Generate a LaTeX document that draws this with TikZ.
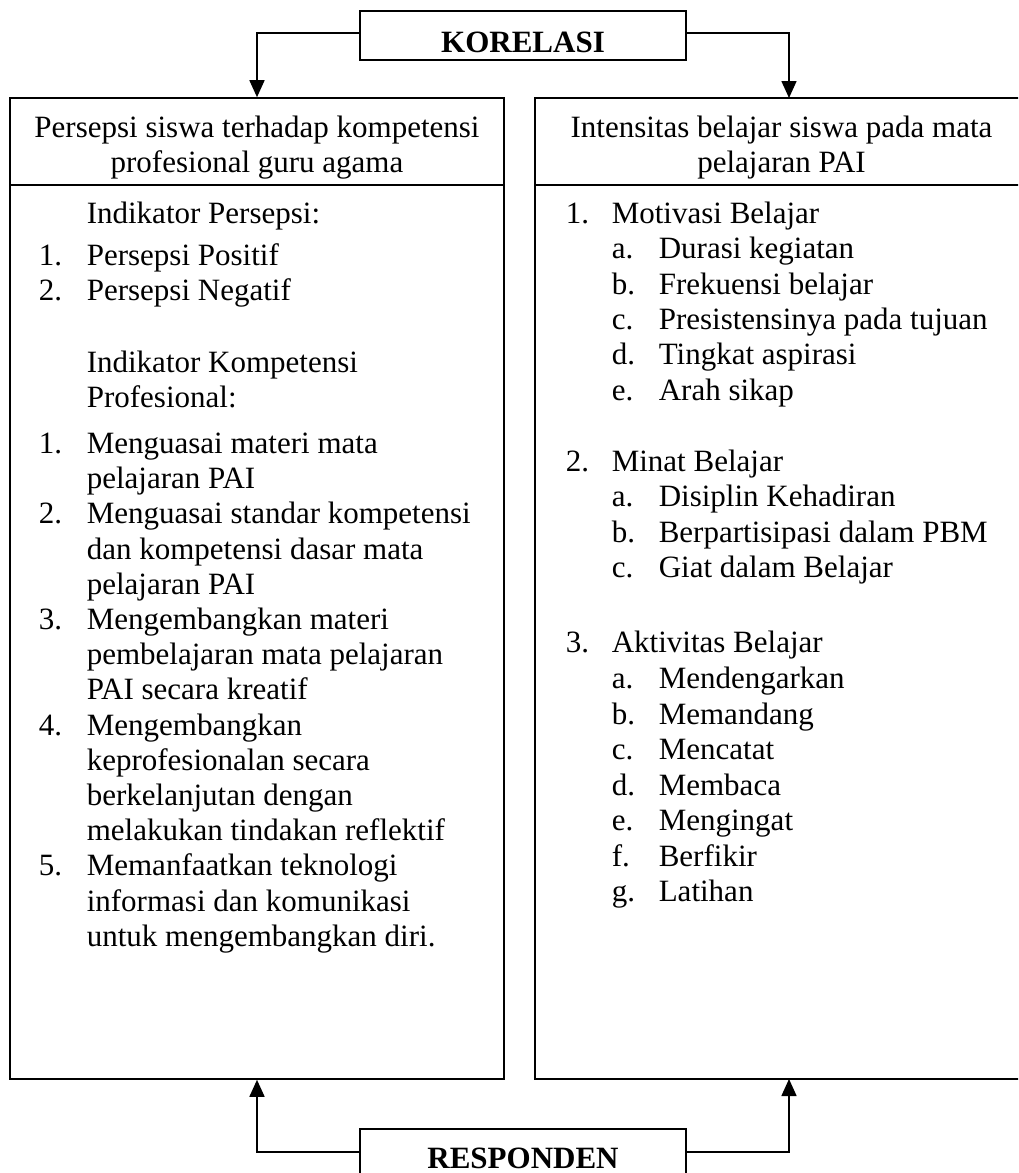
\documentclass[tikz,border=0pt]{standalone}
\usepackage{fontspec}
\setmainfont{Liberation Serif}
\usetikzlibrary{arrows.meta}
\begin{document}
\begin{tikzpicture}[x=1pt,y=-1pt,
  line width=1.6pt,
  box/.style={draw, line width=1.6pt, inner sep=0pt, rectangle},
  txt/.style={anchor=base west, inner sep=0pt, font=\fontsize{31pt}{36pt}\selectfont},
  ctxt/.style={anchor=base, inner sep=0pt, font=\fontsize{31pt}{36pt}\selectfont},
  btxt/.style={anchor=base, inner sep=0pt, font=\fontsize{31pt}{36pt}\selectfont\bfseries},
  arr/.style={-{Triangle[length=17pt,width=15pt]}, line width=1.6pt}]
\useasboundingbox (0,0) rectangle (1018,1173);
\clip (0,0) rectangle (1018,1173);

% main boxes
\node[box, minimum width=494pt, minimum height=981pt] (lbox) at (257,588.5) {};
\node[box, minimum width=493pt, minimum height=981pt] (rbox) at (781.5,588.5) {};
\coordinate (dv) at (0,185);
\draw (lbox.west |- dv) -- (lbox.east |- dv);
\draw (rbox.west |- dv) -- (rbox.east |- dv);

% top box
\node[box, minimum width=326pt, minimum height=49pt] (kor) at (523,35.5) {};
\node[btxt] (korT) at (523,52) {KORELASI};
\coordinate (ra) at (789,98);
\draw[arr] ([yshift=2.5pt]kor.west) -| (lbox.north);
\draw[arr] ([yshift=2.5pt]kor.east) -| (ra);

% bottom box
\node[box, minimum width=326pt, minimum height=49pt] (resp) at (523,1153.5) {};
\node[btxt] (respT) at (523,1168) {RESPONDEN};
\coordinate (rb) at (789,1079);
\draw[arr] ([yshift=1.5pt]resp.west) -| (lbox.south);
\draw[arr] ([yshift=1.5pt]resp.east) -| (rb);

% headers
\node[ctxt] (lh1) at (257,137) {Persepsi siswa terhadap kompetensi};
\node[ctxt] (lh2) at (257,172) {profesional guru agama};
\node[ctxt] (rh1) at (781.5,137) {Intensitas belajar siswa pada mata};
\node[ctxt] (rh2) at (781.5,172) {pelajaran PAI};

% left column
\foreach \yy/\xx/\s [count=\i] in {
  223/86/Indikator Persepsi:,
  265/38/1., 265/86/Persepsi Positif,
  300/38/2., 300/86/Persepsi Negatif,
  372/86/Indikator Kompetensi,
  407/86/Profesional:,
  453/38/1., 453/86/Menguasai materi mata,
  488/86/pelajaran PAI,
  523/38/2., 523/86/Menguasai standar kompetensi,
  559/86/dan kompetensi dasar mata,
  594/86/pelajaran PAI,
  629/38/3., 629/86/Mengembangkan materi,
  664/86/pembelajaran mata pelajaran,
  699/86/PAI secara kreatif,
  735/38/4., 735/86/Mengembangkan,
  770/86/keprofesionalan secara,
  805/86/berkelanjutan dengan,
  840/86/melakukan tindakan reflektif,
  875/38/5., 875/86/Memanfaatkan teknologi,
  911/86/informasi dan komunikasi,
  946/86/untuk mengembangkan diri.}
  \node[txt] (L\i) at (\xx,\yy) {\s};

% right column
\foreach \yy/\xx/\s [count=\i] in {
  223/565/1., 223/611/Motivasi Belajar,
  258/611/a., 258/658/Durasi kegiatan,
  294/611/b., 294/658/Frekuensi belajar,
  329/611/c., 329/658/Presistensinya pada tujuan,
  364/611/d., 364/658/Tingkat aspirasi,
  400/611/e., 400/658/Arah sikap,
  471/565/2., 471/611/Minat Belajar,
  506/611/a., 506/658/Disiplin Kehadiran,
  542/611/b., 542/658/Berpartisipasi dalam PBM,
  577/611/c., 577/658/Giat dalam Belajar,
  652/565/3., 652/611/Aktivitas Belajar,
  688/611/a., 688/658/Mendengarkan,
  724/611/b., 724/658/Memandang,
  759/611/c., 759/658/Mencatat,
  795/611/d., 795/658/Membaca,
  830/611/e., 830/658/Mengingat,
  866/611/f., 866/658/Berfikir,
  901/611/g., 901/658/Latihan}
  \node[txt] (R\i) at (\xx,\yy) {\s};
\end{tikzpicture}
\end{document}
